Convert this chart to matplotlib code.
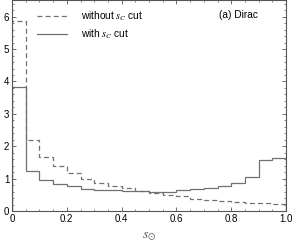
import matplotlib
matplotlib.use("Agg")
import matplotlib.pyplot as plt
import numpy as np
from matplotlib.ticker import MultipleLocator

plt.rcParams['font.family'] = ['Liberation Sans', 'DejaVu Sans']
plt.rcParams['mathtext.fontset'] = 'stix'

bin_edges = [i * 0.05 for i in range(21)]
without_cut = [5.86, 2.2, 1.66, 1.39, 1.16, 1.0, 0.88, 0.78, 0.70, 0.62,
               0.56, 0.48, 0.45, 0.38, 0.33, 0.30, 0.27, 0.25, 0.24, 0.22]
with_cut = [3.84, 1.22, 0.97, 0.83, 0.76, 0.68, 0.65, 0.64, 0.63, 0.61,
            0.60, 0.60, 0.65, 0.68, 0.72, 0.77, 0.87, 1.04, 1.59, 1.63]

fig = plt.figure(figsize=(2.93, 2.49), dpi=100)
ax = fig.add_axes([12/293, 1 - 211/249, 274/293, 211/249 - 0.002])

col = '#707070'
ax.stairs(without_cut, bin_edges, color=col, lw=0.9, ls=(0, (4, 2.5)),
          label=r'without $s_C$ cut')
ax.stairs(with_cut, bin_edges, color=col, lw=0.9, ls='-',
          label=r'with $s_C$ cut')

ax.set_xlim(0, 1.0)
ax.set_ylim(0, 6.5)
ax.xaxis.set_major_locator(MultipleLocator(0.2))
ax.xaxis.set_minor_locator(MultipleLocator(0.05))
ax.yaxis.set_major_locator(MultipleLocator(1))
ax.yaxis.set_minor_locator(MultipleLocator(0.2))
ax.set_xticks([0, 0.2, 0.4, 0.6, 0.8, 1.0])
ax.set_xticklabels(['0', '0.2', '0.4', '0.6', '0.8', '1.0'])
ax.tick_params(which='both', direction='in', top=True, right=True,
               labelsize=7, color='#555555')
ax.tick_params(which='major', length=3, width=0.6, pad=2)
ax.tick_params(which='minor', length=1.5, width=0.5)
for s in ax.spines.values():
    s.set_color('#555555')
    s.set_linewidth(0.8)

ax.set_xlabel(r'$s_{\odot}$', fontsize=10, color='#555555', labelpad=4)

ax.legend(loc='upper left', bbox_to_anchor=(0.058, 1.0), frameon=False,
          fontsize=7.3, handlelength=3.0, handletextpad=1.3, labelspacing=0.45)
ax.text(0.898, 0.955, '(a) Dirac', transform=ax.transAxes, fontsize=7.3,
        ha='right', va='top')

fig.savefig('out.png', dpi=100)
